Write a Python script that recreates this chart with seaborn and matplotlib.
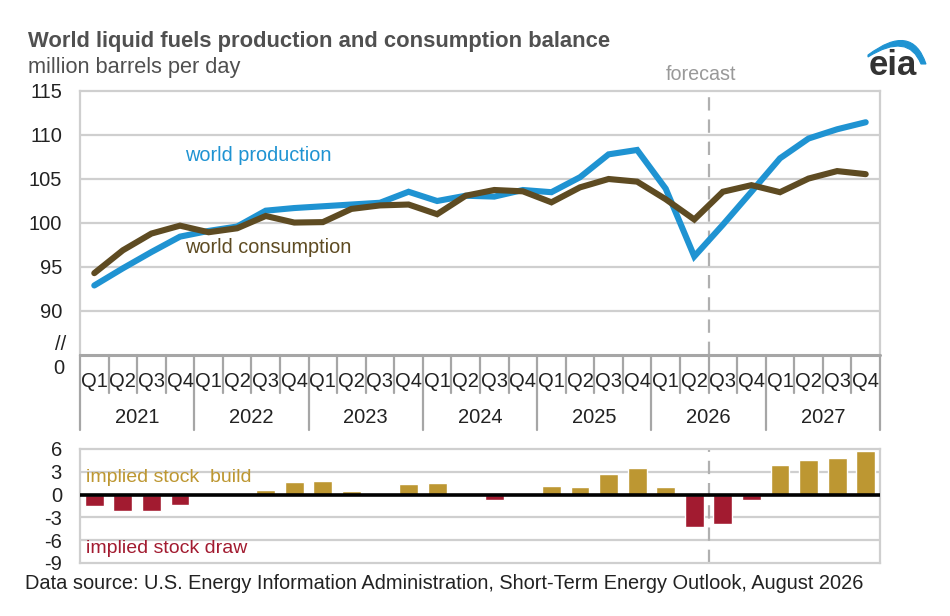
import numpy as np
import pandas as pd
import matplotlib
matplotlib.use("Agg")
import matplotlib.pyplot as plt
from matplotlib.path import Path
from matplotlib.patches import PathPatch
import seaborn as sns

# ---------------- data ----------------
years = ["2021", "2022", "2023", "2024", "2025", "2026", "2027"]
quarters = ["Q1", "Q2", "Q3", "Q4"]
production = [92.9, 94.85, 96.7, 98.45, 99.1, 99.6, 101.4, 101.7,
              101.9, 102.1, 102.3, 103.55, 102.5, 103.1, 103.0, 103.75,
              103.5, 105.2, 107.8, 108.3, 103.9, 96.2, 99.8, 103.55,
              107.35, 109.6, 110.65, 111.45]
consumption = [94.3, 96.9, 98.8, 99.7, 98.95, 99.4, 100.8, 100.05,
               100.1, 101.6, 102.0, 102.1, 101.0, 103.1, 103.75, 103.6,
               102.35, 104.05, 105.0, 104.7, 102.7, 100.4, 103.55, 104.3,
               103.5, 105.05, 105.9, 105.55]
stock_change = [-1.45, -2.15, -2.1, -1.35, 0.12, 0.0, 0.65, 1.6,
                1.75, 0.45, 0.15, 1.45, 1.5, 0.0, -0.7, 0.05,
                1.1, 0.98, 2.75, 3.45, 1.0, -4.2, -3.85, -0.65,
                3.85, 4.6, 4.85, 5.8]
upper_ticks = [90, 95, 100, 105, 110, 115]
lower_ticks = [-9, -6, -3, 0, 3, 6]

# ---------------- style ----------------
sns.set_theme(style="white")
plt.rcParams["font.family"] = ["Liberation Sans", "DejaVu Sans"]

BLUE = "#1f93d2"
BROWN = "#5e4b22"
GOLD = "#bd9732"
RED = "#a21b30"
GRID = "#cfcfcf"
AXIS = "#a6a6a6"
TXT = "#222222"

n = len(production)
idx = np.arange(n)
df = pd.DataFrame({"idx": idx, "production": production,
                   "consumption": consumption, "change": stock_change})
df["sign"] = np.where(df["change"] >= 0, "build", "draw")

W, H = 950, 616
fig = plt.figure(figsize=(W / 100, H / 100), dpi=100)

def fx(px):
    return px / W

def fy(py):
    return 1 - py / H

L, R = 80, 880
ax = fig.add_axes([fx(L), fy(355), fx(R - L), fy(91) - fy(355)])
axc = fig.add_axes([fx(L), fy(430), fx(R - L), fy(355) - fy(430)])
axb = fig.add_axes([fx(L), fy(563), fx(R - L), fy(449) - fy(563)])

xlim = (-0.5, n - 0.5)
fc_x = 21.5

# ---------- upper chart ----------
for y in upper_ticks[:-1]:
    ax.axhline(y, color=GRID, lw=1.6, zorder=0)
sns.lineplot(data=df, x="idx", y="production", ax=ax, color=BLUE, lw=4.4,
             solid_capstyle="round", solid_joinstyle="miter", zorder=3)
sns.lineplot(data=df, x="idx", y="consumption", ax=ax, color=BROWN, lw=4.4,
             solid_capstyle="round", solid_joinstyle="miter", zorder=4)
ax.axvline(fc_x, color="#b0b0b0", lw=1.6, ls=(0, (6, 4)), zorder=2)
ax.set_xlim(*xlim)
ax.set_ylim(85, 115)
ax.set_yticks(upper_ticks)
ax.set_yticklabels([str(t) for t in upper_ticks])
ax.set_xticks([])
ax.set_xlabel("")
ax.set_ylabel("")
ax.tick_params(axis="y", length=0, pad=13, labelsize=14.5, labelcolor=TXT)
for s in ["left", "top", "right"]:
    ax.spines[s].set_color(GRID)
    ax.spines[s].set_linewidth(1.6)
ax.spines["bottom"].set_visible(False)
ax.text(3.18, 107.7, "world production", color=BLUE, fontsize=14.3, va="center")
ax.text(3.18, 97.2, "world consumption", color=BROWN, fontsize=14.3, va="center")
ax.text(fc_x - 0.25, 1.025, "forecast", transform=ax.get_xaxis_transform(),
        ha="center", va="bottom", color="#999999", fontsize=14.2)

# ---------- category axis ----------
axc.set_xlim(*xlim)
axc.set_ylim(0, 1)
axc.axis("off")
axc.axhline(1, color=AXIS, lw=2.2, clip_on=False)
for i in range(n + 1):
    xb = i - 0.5
    if i % 4 == 0:
        axc.plot([xb, xb], [0, 1], color=AXIS, lw=1.6, clip_on=False)
    else:
        axc.plot([xb, xb], [0.5, 1], color=AXIS, lw=1.6, clip_on=False)
for i in range(n):
    axc.text(i, 0.65, quarters[i % 4], ha="center", va="center",
             fontsize=14.5, color=TXT)
for k, yr in enumerate(years):
    axc.text(4 * k + 1.5, 0.17, yr, ha="center", va="center",
             fontsize=14.5, color=TXT)
fig.text(fx(66), fy(345), "//", ha="right", va="center", fontsize=14.5, color=TXT)
fig.text(fx(64), fy(368), "0", ha="right", va="center", fontsize=14.5, color=TXT)

# ---------- lower chart ----------
for y in [-6, -3, 3]:
    axb.axhline(y, color=GRID, lw=1.6, zorder=0)
sns.barplot(data=df, x="idx", y="change", hue="sign", ax=axb,
            order=list(idx), hue_order=["build", "draw"],
            palette={"build": GOLD, "draw": RED}, dodge=False, width=0.66,
            saturation=1, errorbar=None, legend=False, zorder=2)
axb.axhline(0, color="black", lw=2.6, zorder=3)
axb.axvline(fc_x, color="#b0b0b0", lw=1.6, ls=(0, (6, 4)), zorder=1)
axb.set_xlim(*xlim)
axb.set_ylim(-9, 6)
axb.set_yticks(lower_ticks)
axb.set_yticklabels([str(t) for t in lower_ticks])
axb.set_xticks([])
axb.set_xlabel("")
axb.set_ylabel("")
axb.tick_params(axis="y", length=0, pad=13, labelsize=14.5, labelcolor=TXT)
for s in ["left", "top", "right", "bottom"]:
    axb.spines[s].set_color(GRID)
    axb.spines[s].set_linewidth(1.6)
axb.text(-0.3, 2.2, "implied stock  build", color=GOLD, fontsize=14, va="center")
axb.text(-0.3, -7.1, "implied stock draw", color=RED, fontsize=14, va="center")

# ---------- titles / source ----------
fig.text(fx(28), fy(41), "World liquid fuels production and consumption balance",
         ha="left", va="center", fontsize=15.8, fontweight="bold", color="#505050")
fig.text(fx(28), fy(67), "million barrels per day", ha="left", va="center",
         fontsize=15.7, color="#505050")
fig.text(fx(25), fy(574), "Data source: U.S. Energy Information Administration, "
         "Short-Term Energy Outlook, August 2026", ha="left", va="top",
         fontsize=14.4, color=TXT)

# ---------- eia logo ----------
fig.text(fx(893), fy(75), "eia", ha="center", va="baseline", fontsize=25,
         fontweight="bold", color="#333333")
verts = [(868, 55), (912, 22), (926, 64), (921, 64), (908, 32), (868, 57), (868, 55)]
verts = [(fx(a), fy(b)) for a, b in verts]
codes = [Path.MOVETO, Path.CURVE3, Path.CURVE3, Path.LINETO, Path.CURVE3,
         Path.CURVE3, Path.CLOSEPOLY]
fig.patches.append(PathPatch(Path(verts, codes), facecolor=BLUE, edgecolor=BLUE,
                             lw=0.8, transform=fig.transFigure))

fig.savefig("out.png", dpi=100)
